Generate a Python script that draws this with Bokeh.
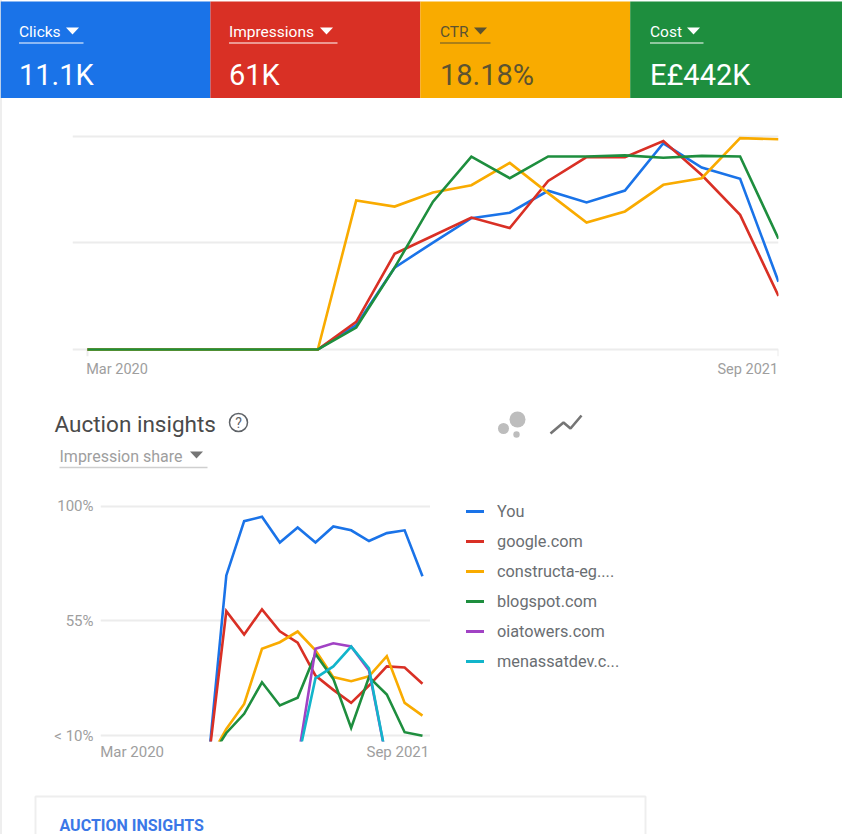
from bokeh.plotting import figure
from bokeh.layouts import column, row
from bokeh.models import Range1d, FixedTicker, Legend, LegendItem
from bokeh.core.properties import value
from bokeh.embed import file_html
from bokeh.resources import INLINE

nan = float("nan")
FONT = value("Roboto")

# ---- data
metric_names = ["Clicks", "Impressions", "CTR", "Cost"]
metric_values = ["11.1K", "61K", "18.18%", "E£442K"]
metric_colors = ["#1a73e8", "#d93025", "#f9ab00", "#1e8e3e"]
metric_ink = ["#ffffff", "#ffffff", "#5c5330", "#ffffff"]

months = list(range(19))
date_labels = ["Mar 2020", "Sep 2021"]

clicks = [0]*7 + [11.4, 38.4, 50.2, 61.6, 64.2, 74.5, 69.0, 74.6, 96.8, 85.4, 80.1, 31.8]
impressions = [0]*7 + [13.0, 44.9, 53.4, 61.9, 57.0, 79.1, 90.3, 90.3, 97.9, 81.9, 63.2, 25.1]
ctr = [0]*7 + [69.9, 67.1, 73.7, 77.1, 87.6, 73.4, 59.6, 64.8, 77.3, 80.4, 99.2, 98.7]
cost = [0]*7 + [10.3, 38.4, 69.4, 90.5, 80.4, 90.6, 90.6, 91.1, 90.0, 90.9, 90.6, 52.0]

competitors = ["You", "google.com", "constructa-eg....", "blogspot.com", "oiatowers.com", "menassatdev.c..."]
competitor_colors = ["#1a73e8", "#d93025", "#f9ab00", "#1e8e3e", "#a142c4", "#12b5cb"]
you = [nan]*6 + [0, 72.8, 94.1, 95.8, 85.7, 91.6, 85.7, 92.0, 90.5, 86.3, 89.4, 90.5, 72.5]
google = [nan]*6 + [0, 58.8, 49.6, 59.5, 50.9, 46.4, 33.5, 27.9, 22.8, 29.6, 37.1, 36.7, 30.3]
constructa = [nan]*6 + [0, 12.6, 22.4, 44.0, 46.6, 50.8, 43.4, 32.9, 31.3, 33.2, 41.1, 22.8, 17.8]
blogspot = [nan]*6 + [0, 11.0, 18.5, 30.9, 21.8, 24.8, 42.0, 32.2, 13.0, 32.9, 26.1, 11.3, 9.9]
oiatowers = [nan]*11 + [0, 44.0, 46.2, 44.9, 35.5, 0, nan, nan]
menassat = [nan]*11 + [0, 32.5, 37.1, 44.9, 36.4, 0, nan, nan]
share_ticks = [10, 55, 100]
share_labels = ["< 10%", "55%", "100%"]

GRID = "#ececec"
GREY = "#9e9e9e"


def canvas(h, wd=842, x0=0):
    p = figure(width=wd, height=h, x_range=Range1d(x0, x0 + wd), y_range=Range1d(h, 0),
               output_backend="svg", toolbar_location=None, min_border=0, frame_align=False,
               border_fill_color=None, background_fill_color=None, outline_line_color=None)
    p.axis.visible = False
    p.grid.visible = False
    return p


def arrows(p, xs, y, colors):
    p.patches([[x - 6.5, x + 6.5, x] for x in xs], [[y - 3, y - 3, y + 4] for x in xs],
              color=colors, line_color=None)


# ---- header tiles
w = 209.9
header = canvas(98)
header.quad(left=[i * w for i in range(3)] + [3 * w], right=[(i + 1) * w for i in range(3)] + [842],
            top=[1] * 4, bottom=[98] * 4, color=metric_colors, line_color=None)
tx = [18.5, 228.5, 439.5, 649.5]
ux = [83, 337, 490, 703]
ax = [72, 326, 480, 693]
header.text(tx, [31] * 4, text=metric_names, text_font=FONT, text_font_size="15.5px",
            text_baseline="middle", text_color=metric_ink)
header.text(tx, [74] * 4, text=metric_values, text_font=FONT, text_font_size="29px",
            text_baseline="middle", text_color=metric_ink)
header.segment(tx, [42.5] * 4, ux, [42.5] * 4, line_width=2, line_color=metric_ink, line_alpha=0.5)
arrows(header, ax, 30, metric_ink)

# ---- top trend chart
top = figure(width=842, height=300, x_range=Range1d(-0.39, 18), y_range=Range1d(-3.3, 102.8),
             output_backend="svg", toolbar_location=None, frame_align=False,
             min_border_left=72, min_border_right=64, min_border_top=32, min_border_bottom=42,
             border_fill_color=None, background_fill_color=None, outline_line_color=None)
top.xgrid.visible = False
top.yaxis.visible = False
top.ygrid.ticker = FixedTicker(ticks=[0, 50, 100])
top.ygrid.grid_line_color = GRID
top.ygrid.grid_line_width = 2
top.xaxis.ticker = FixedTicker(ticks=[0.77, 17.2])
top.xaxis.major_label_overrides = {0.77: date_labels[0], 17.2: date_labels[1]}
top.xaxis.axis_line_color = None
top.xaxis.major_tick_line_color = None
top.xaxis.minor_tick_line_color = None
top.xaxis.major_label_standoff = -2
top.xaxis.major_label_text_font = "Roboto"
top.xaxis.major_label_text_font_size = "14.5px"
top.xaxis.major_label_text_color = GREY
top.segment([months[0], months[-1]], [0, 0], [months[0], months[-1]], [-3.3, -3.3],
            line_color=GRID, line_width=2)
for series, color in zip([clicks, impressions, ctr, cost], metric_colors):
    top.line(months, series, line_color=color, line_width=2.6, line_join="miter")

# ---- heading of the auction section
head = canvas(92)
o = 398
head.text([54], [423 - o], text=["Auction insights"], text_font=FONT, text_font_size="22.5px",
          text_baseline="middle", text_color="#4a4a4a")
head.circle([238], [422 - o], radius=9, fill_color=None, line_color="#5f6368", line_width=1.5)
head.text([238], [422 - o], text=["?"], text_font=FONT, text_font_size="14px", text_align="center",
          text_baseline="middle", text_color="#5f6368")
head.circle([503, 517, 516], [428 - o, 419 - o, 434 - o], radius=[5.5, 8, 3.2], color="#bdbdbd", line_color=None)
head.line([550, 563, 570, 581], [433 - o, 422 - o, 428 - o, 415 - o], line_color="#757575", line_width=2.6)
head.text([59], [456 - o], text=["Impression share"], text_font=FONT, text_font_size="16px",
          text_baseline="middle", text_color=GREY)
arrows(head, [196], 454 - o, ["#757575"])
head.segment([59], [467 - o], [207], [467 - o], line_color="#cfcfcf", line_width=1.5)

# ---- auction chart
chart = figure(width=430, height=285, x_range=Range1d(-0.056, 18.45), y_range=Range1d(7.65, 102.2),
               output_backend="svg", toolbar_location=None, frame_align=False,
               min_border_left=100, min_border_right=0, min_border_top=10, min_border_bottom=34,
               border_fill_color=None, background_fill_color=None, outline_line_color=None)
chart.xgrid.visible = False
chart.ygrid.ticker = FixedTicker(ticks=share_ticks)
chart.ygrid.grid_line_color = GRID
chart.ygrid.grid_line_width = 2
chart.yaxis.ticker = FixedTicker(ticks=share_ticks)
chart.yaxis.major_label_overrides = dict(zip(share_ticks, share_labels))
chart.xaxis.ticker = FixedTicker(ticks=[1.72, 16.62])
chart.xaxis.major_label_overrides = {1.72: date_labels[0], 16.62: date_labels[1]}
for ax_ in (chart.xaxis, chart.yaxis):
    ax_.axis_line_color = None
    ax_.major_tick_line_color = None
    ax_.minor_tick_line_color = None
    ax_.major_label_text_font = "Roboto"
    ax_.major_label_text_font_size = "15px"
    ax_.major_label_text_color = GREY
chart.xaxis.major_label_standoff = -5
chart.yaxis.major_label_standoff = 1

# the legend sits in its own panel to the right of the chart; that panel's x range
# lies away from the months, so its keyed lines show only as legend swatches
key = canvas(285, 412, -1000)
items = []
all_series = [you, google, constructa, blogspot, oiatowers, menassat]
for name, series, color in zip(competitors, all_series, competitor_colors):
    chart.line(months, series, line_color=color, line_width=2.6, line_join="miter")
    r = key.line(months, series, line_color=color, line_width=3, line_cap="round")
    items.append(LegendItem(label=name, renderers=[r]))
legend = Legend(items=items, location=(36, 104), orientation="vertical", glyph_width=18, glyph_height=20,
                label_height=20, label_standoff=13, spacing=10, padding=0, margin=0,
                border_line_color=None, background_fill_color=None,
                label_text_font="Roboto", label_text_font_size="16.3px", label_text_color="#6a6e72")
key.add_layout(legend, "center")

# ---- table card at the bottom
foot = canvas(59)
f0 = 775
foot.line([35, 35, 645, 645], [834 - f0, 796 - f0, 796 - f0, 834 - f0], line_color="#eeeeee", line_width=2)
foot.text([59], [825 - f0], text=["AUCTION INSIGHTS"], text_font=FONT, text_font_size="16px",
          text_font_style="bold", text_baseline="middle", text_color="#3b78e7")

page = column(header, top, head, row(chart, key, spacing=0), foot, spacing=0, margin=0,
              styles={"background": "linear-gradient(to right,#eeeeee 2px,#ffffff 2px)"})

open("out.html", "w").write(file_html(page, INLINE))
